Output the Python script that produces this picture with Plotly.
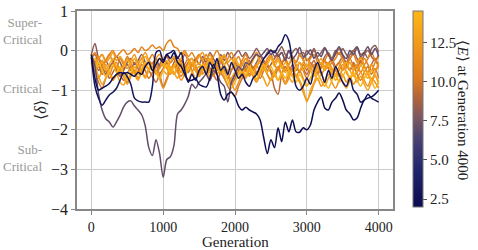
import plotly.graph_objects as go
from plotly.colors import sample_colorscale

generations = list(range(0, 4001, 50))

# <E> at generation 4000 for each run (colour values)
energy = [2.2, 3.0, 7.0, 8.0, 8.6, 9.2, 9.8, 10.4, 10.9, 11.4, 11.9, 12.4, 12.9, 13.5, 14.2]

run_e22 = [-0.1, -0.7, -1.0, -0.95, -0.9, -0.83, -0.7, -0.6, -0.55, -0.58, -0.55,
           -0.6, -0.65, -0.55, -0.6, -0.4, -0.3, -0.5, -0.35, -0.2, -0.3,
           -0.1, -0.2, -0.05, -0.3, -0.4, -0.6, -0.75, -0.75, -0.7, -0.85,
           -0.9, -0.92, -0.7, -0.35, -0.6, -1.1, -1.25, -1.1, -1.05, -1.17,
           -1.4, -1.5, -1.43, -1.5, -1.55, -1.6, -1.75, -2.2, -2.6, -2.25,
           -2.45, -1.95, -2.3, -1.8, -2.05, -1.75, -2.05, -2.06, -1.95, -2.0,
           -1.88, -1.5, -1.3, -1.17, -1.45, -1.5, -1.3, -1.2, -1.07, -1.25,
           -1.5, -1.6, -1.75, -1.7, -1.45, -1.25, -1.2, -1.17, -1.1, -1.0, -0.92]
run_e30 = [-0.16, -0.9, -1.2, -1.38, -1.25, -1.12, -1.05, -0.95, -0.75, -0.55, -0.66,
           -0.85, -1.2, -1.27, -1.3, -1.3, -1.3, -0.9, -0.05, 0.0, -0.25,
           -0.1, -0.05, 0.0, -0.2, -0.05, -0.5, -0.8, -0.6, -0.75, -0.5,
           -0.4, -0.6, -0.3, -0.45, -0.2, -0.5, -0.4, -0.6, -0.3, -0.5,
           -0.7, -0.6, -0.8, -0.9, -0.7, -0.6, -0.4, -0.2, -0.1, 0.0,
           -0.05, 0.1, 0.2, 0.4, 0.25, -0.3, -0.9, -1.0, -0.9, -0.7,
           -0.85, -0.5, -0.3, -0.55, -0.8, -0.5, -0.7, -0.4, -0.6, -0.8,
           -0.9, -0.7, -1.0, -1.1, -1.3, -1.25, -1.1, -1.2, -1.25, -1.3, -1.25]
run_e70 = [-0.1, -0.4, -1.1, -1.5, -1.72, -1.8, -1.93, -1.8, -1.63, -1.42, -1.3,
           -1.27, -1.4, -1.5, -1.62, -1.9, -2.45, -2.65, -2.25, -2.6, -3.2,
           -2.75, -2.68, -2.4, -1.6, -1.5, -1.35, -1.15, -0.85, -0.95, -0.8,
           -0.7, -0.6, -0.75, -0.5, -0.6, -0.8, -0.9, -1.3, -0.8, -0.6,
           -0.4, -0.5, -0.3, -0.35, -0.2, -0.1, -0.15, -0.05, 0.05, -0.1,
           0.0, -0.15, -0.05, -0.25, 0.0, -0.2, -0.1, 0.08, -0.15, -0.1,
           0.02, -0.2, -0.05, -0.15, 0.05, -0.1, -0.25, -0.05, 0.1, -0.1,
           -0.2, 0.0, -0.1, 0.08, -0.15, -0.05, 0.1, -0.1, 0.05, -0.15, -0.05]
run_e80 = [-0.1, 0.18, -0.2, -0.35, -0.25, -0.4, -0.3, -0.15, -0.3, -0.45, -0.3,
           -0.2, -0.35, -0.25, -0.1, -0.3, -0.5, -0.35, -0.2, -0.4, -0.3,
           -0.15, -0.3, -0.2, -0.45, -0.3, -0.1, -0.25, -0.4, -0.2, -0.35,
           -0.15, -0.3, -0.05, -0.2, -0.35, -0.1, -0.25, -0.05, -0.2, -0.1,
           0.0, -0.15, -0.05, -0.2, -0.1, 0.05, -0.1, -0.2, -0.05, 0.02,
           -0.15, -0.05, 0.1, -0.1, -0.2, -0.05, 0.05, -0.1, -0.2, 0.0,
           -0.1, 0.05, -0.15, -0.05, 0.08, -0.1, -0.2, 0.0, -0.1, 0.05,
           -0.1, -0.2, 0.0, 0.1, -0.1, -0.05, -0.2, 0.05, 0.13, -0.05, -0.1]
run_e86 = [-0.15, -0.3, -0.5, -0.4, -0.6, -0.45, -0.3, -0.5, -0.65, -0.5, -0.35,
           -0.5, -0.3, -0.45, -0.6, -0.4, -0.25, -0.4, -0.55, -0.35, -0.2,
           -0.35, -0.5, -0.3, -0.15, -0.35, -0.5, -0.3, -0.2, -0.4, -0.55,
           -0.35, -0.2, -0.45, -0.6, -0.4, -0.25, -0.5, -0.7, -0.5, -0.3,
           -0.5, -0.65, -0.4, -0.25, -0.45, -0.3, -0.15, -0.3, -0.5, -0.35,
           -0.2, -0.1, -0.3, -0.2, 0.0, -0.15, -0.3, -0.1, -0.05, -0.25,
           -0.15, 0.0, -0.2, -0.35, -0.15, -0.05, -0.2, -0.1, 0.05, -0.15,
           -0.3, -0.1, 0.0, -0.2, -0.3, -0.1, 0.0, -0.15, -0.25, -0.1, -0.15]
run_e92 = [-0.2, -0.1, -0.35, -0.6, -0.5, -0.7, -0.55, -0.4, -0.6, -0.75, -0.6,
           -0.4, -0.55, -0.7, -0.5, -0.35, -0.5, -0.65, -0.8, -0.6, -0.45,
           -0.3, -0.45, -0.6, -0.4, -0.25, -0.4, -0.55, -0.35, -0.5, -0.65,
           -0.5, -0.3, -0.45, -0.6, -0.75, -0.55, -0.4, -0.6, -0.85, -0.7,
           -0.5, -0.35, -0.5, -0.3, -0.45, -0.6, -0.4, -0.25, -0.4, -0.55,
           -0.95, -1.1, -0.6, -0.4, -0.55, -0.35, -0.5, -0.3, -0.45, -0.6,
           -0.4, -0.25, -0.45, -0.3, -0.5, -0.35, -0.2, -0.4, -0.3, -0.15,
           -0.35, -0.5, -0.3, -0.45, -0.25, -0.4, -0.55, -0.35, -0.2, -0.4, -0.3]
run_e98 = [-0.25, -0.5, -0.8, -0.95, -0.7, -0.55, -0.7, -0.6, -0.45, -0.65, -0.8,
           -0.6, -0.4, -0.55, -0.35, -0.5, -0.7, -0.55, -0.4, -0.6, -0.9,
           -0.7, -0.5, -0.35, -0.5, -0.65, -0.45, -0.3, -0.5, -0.7, -0.55,
           -0.4, -0.6, -0.75, -0.5, -0.35, -0.55, -0.7, -0.9, -1.05, -1.15,
           -0.9, -0.7, -0.5, -0.6, -0.4, -0.55, -0.7, -0.5, -0.35, -0.5,
           -0.65, -0.45, -0.3, -0.5, -0.35, -0.2, -0.4, -0.55, -0.35, -0.5,
           -0.3, -0.45, -0.6, -0.4, -0.25, -0.45, -0.3, -0.5, -0.65, -0.45,
           -0.3, -0.5, -0.35, -0.6, -0.75, -0.55, -0.4, -0.6, -0.45, -0.7, -0.55]
run_e104 = [-0.1, -0.3, -0.15, -0.4, -0.25, -0.1, -0.3, -0.45, -0.2, -0.35, -0.15,
            -0.3, -0.5, -0.35, -0.2, -0.4, -0.25, -0.1, -0.3, -0.45, -0.25,
            -0.1, -0.3, -0.2, -0.4, -0.55, -0.35, -0.2, -0.4, -0.25, -0.1,
            -0.3, -0.45, -0.2, -0.35, -0.5, -0.3, -0.15, -0.35, -0.5, -0.3,
            -0.15, -0.35, -0.2, -0.4, -0.6, -0.4, -0.25, -0.45, -0.3, -0.15,
            -0.35, -0.5, -0.3, -0.2, -0.4, -0.6, -0.45, -0.3, -0.5, -0.7,
            -0.5, -0.35, -0.55, -0.4, -0.25, -0.45, -0.6, -0.4, -0.3, -0.5,
            -0.35, -0.2, -0.4, -0.55, -0.35, -0.2, -0.35, -0.5, -0.3, -0.15, -0.3]
run_e109 = [-0.2, -0.05, -0.2, -0.1, -0.25, -0.1, 0.0, -0.15, -0.05, 0.02, -0.1,
            -0.05, 0.05, -0.05, 0.09, 0.0, 0.05, 0.14, 0.05, 0.1, 0.0,
            0.19, 0.27, 0.1, 0.05, -0.1, 0.0, -0.15, -0.05, -0.2, -0.1,
            -0.25, -0.1, -0.3, -0.15, 0.0, -0.2, -0.35, -0.2, -0.05, -0.25,
            -0.4, -0.25, -0.1, -0.3, -0.2, -0.05, -0.25, -0.4, -0.2, -0.1,
            -0.3, -0.15, -0.05, -0.25, -0.35, -0.15, -0.3, -0.1, -0.25, -0.4,
            -0.2, -0.1, -0.3, -0.45, -0.25, -0.1, -0.3, -0.2, -0.05, -0.25,
            -0.4, -0.2, -0.1, -0.3, -0.15, -0.35, -0.2, -0.05, -0.25, -0.4, -0.2]
run_e114 = [-0.3, -0.55, -0.4, -0.25, -0.45, -0.6, -0.4, -0.3, -0.5, -0.35, -0.2,
            -0.4, -0.55, -0.35, -0.5, -0.65, -0.45, -0.3, -0.5, -0.7, -0.95,
            -0.75, -0.5, -0.35, -0.55, -0.4, -0.6, -0.75, -0.55, -0.4, -0.6,
            -0.45, -0.3, -0.5, -0.65, -0.45, -0.6, -0.4, -0.55, -0.8, -1.0,
            -0.8, -0.6, -0.45, -0.65, -0.5, -0.35, -0.55, -0.4, -0.6, -0.75,
            -0.55, -0.4, -0.6, -0.8, -0.6, -0.45, -0.65, -0.5, -0.7, -0.9,
            -0.7, -0.55, -0.4, -0.6, -0.45, -0.3, -0.5, -0.65, -0.5, -0.35,
            -0.55, -0.7, -0.5, -0.35, -0.55, -0.4, -0.6, -0.75, -0.55, -0.4, -0.6]
run_e119 = [-0.15, -0.45, -0.7, -0.5, -0.35, -0.55, -0.75, -0.6, -0.45, -0.65, -0.85,
            -0.65, -0.5, -0.7, -0.55, -0.35, -0.5, -0.4, -0.6, -0.45, -0.3,
            -0.45, -0.6, -0.4, -0.55, -0.75, -0.6, -0.45, -0.3, -0.5, -0.4,
            -0.6, -0.45, -0.65, -0.5, -0.35, -0.55, -0.4, -0.6, -0.75, -0.6,
            -0.4, -0.55, -0.7, -0.5, -0.65, -0.8, -0.6, -0.45, -0.6, -0.75,
            -0.6, -0.45, -0.65, -0.85, -0.7, -0.5, -0.65, -0.8, -1.05, -1.25,
            -1.1, -0.85, -0.7, -0.9, -0.75, -0.6, -0.8, -0.95, -0.75, -0.6,
            -0.8, -0.65, -0.85, -0.7, -0.55, -0.75, -0.9, -0.7, -0.8, -0.95, -0.85]
run_e124 = [-0.2, -0.35, -0.2, -0.1, -0.3, -0.2, -0.05, -0.25, -0.15, -0.3, -0.45,
            -0.25, -0.1, -0.3, -0.2, -0.05, -0.25, -0.4, -0.2, -0.1, -0.3,
            -0.45, -0.3, -0.15, -0.35, -0.2, -0.05, -0.25, -0.4, -0.3, -0.15,
            -0.05, -0.25, -0.1, -0.3, -0.45, -0.25, -0.1, -0.3, -0.2, -0.4,
            -0.55, -0.35, -0.2, -0.4, -0.25, -0.1, -0.3, -0.45, -0.3, -0.15,
            -0.3, -0.2, -0.4, -0.55, -0.35, -0.2, -0.35, -0.5, -0.3, -0.2,
            -0.4, -0.55, -0.35, -0.2, -0.4, -0.3, -0.45, -0.6, -0.4, -0.25,
            -0.45, -0.3, -0.5, -0.35, -0.2, -0.4, -0.55, -0.35, -0.5, -0.3, -0.45]
run_e129 = [-0.1, -0.4, -0.65, -0.85, -0.7, -0.55, -0.75, -0.6, -0.8, -0.87, -0.6,
            -0.45, -0.6, -0.75, -0.55, -0.7, -0.5, -0.35, -0.55, -0.7, -0.5,
            -0.6, -0.4, -0.55, -0.7, -0.5, -0.65, -0.45, -0.3, -0.5, -0.65,
            -0.5, -0.35, -0.55, -0.4, -0.6, -0.45, -0.65, -0.85, -0.7, -0.55,
            -0.7, -0.5, -0.65, -0.45, -0.6, -0.75, -0.55, -0.7, -0.9, -0.7,
            -0.55, -0.75, -0.6, -0.45, -0.65, -0.8, -0.6, -0.75, -0.95, -1.3,
            -1.0, -0.8, -0.6, -0.75, -0.9, -0.7, -0.55, -0.75, -0.6, -0.8,
            -0.95, -0.75, -0.6, -0.8, -0.65, -0.85, -1.0, -0.8, -0.65, -0.85, -0.75]
run_e135 = [-0.3, -0.2, -0.4, -0.3, -0.5, -0.35, -0.2, -0.4, -0.55, -0.4, -0.25,
            -0.35, -0.2, -0.4, -0.3, -0.15, -0.35, -0.5, -0.3, -0.2, -0.4,
            -0.25, -0.45, -0.6, -0.4, -0.3, -0.5, -0.35, -0.2, -0.4, -0.3,
            -0.5, -0.35, -0.2, -0.4, -0.3, -0.15, -0.35, -0.5, -0.35, -0.2,
            -0.35, -0.5, -0.3, -0.45, -0.6, -0.4, -0.3, -0.5, -0.35, -0.2,
            -0.4, -0.25, -0.45, -0.3, -0.5, -0.65, -0.45, -0.3, -0.5, -0.35,
            -0.5, -0.65, -0.45, -0.3, -0.5, -0.35, -0.55, -0.4, -0.6, -0.45,
            -0.3, -0.5, -0.65, -0.5, -0.35, -0.55, -0.7, -0.5, -0.6, -0.8, -0.65]
run_e142 = [-0.2, -0.45, -0.3, -0.5, -0.65, -0.5, -0.35, -0.55, -0.4, -0.6, -0.75,
            -0.55, -0.4, -0.6, -0.45, -0.3, -0.5, -0.35, -0.55, -0.7, -0.5,
            -0.35, -0.55, -0.4, -0.25, -0.45, -0.6, -0.4, -0.55, -0.7, -0.5,
            -0.35, -0.5, -0.65, -0.45, -0.6, -0.4, -0.55, -0.75, -0.95, -0.8,
            -0.6, -0.45, -0.6, -0.4, -0.55, -0.7, -0.5, -0.35, -0.55, -0.4,
            -0.6, -0.75, -0.55, -0.7, -0.5, -0.65, -0.8, -0.6, -0.75, -0.9,
            -0.7, -0.55, -0.75, -0.6, -0.8, -0.95, -0.75, -0.6, -0.8, -0.65,
            -0.5, -0.7, -0.55, -0.75, -0.9, -0.7, -0.55, -0.75, -0.95, -0.8, -1.0]

runs = [run_e22, run_e30, run_e70, run_e80, run_e86, run_e92, run_e98, run_e104,
        run_e109, run_e114, run_e119, run_e124, run_e129, run_e135, run_e142]

x_ticks = [0, 1000, 2000, 3000, 4000]
y_ticks = [1, 0, -1, -2, -3, -4]
cbar_ticks = [2.5, 5.0, 7.5, 10.0, 12.5]
regime_labels = ["Super-<br>Critical", "Critical", "Sub-<br>Critical"]
regime_pos = [0.5, -0.95, -2.72]

E_MIN, E_MAX = 2.0, 14.5
cscale = [[0.0, "#0b0b50"], [0.2, "#21276d"], [0.35, "#4a4272"], [0.45, "#7a5662"],
          [0.55, "#ad633e"], [0.65, "#dc7a1f"], [0.8, "#ef931a"], [1.0, "#fcb718"]]

FONT = "Liberation Serif"
fig = go.Figure()

# draw orange first, dark ones on top
order = list(range(3, len(runs))) + [2, 1, 0]
for k in order:
    frac = (energy[k] - E_MIN) / (E_MAX - E_MIN)
    col = sample_colorscale(cscale, [frac])[0]
    fig.add_trace(go.Scatter(x=generations, y=runs[k], mode="lines",
                             line=dict(color=col, width=1.5, shape="spline", smoothing=0.8),
                             showlegend=False, hoverinfo="skip"))

# colorbar carrier
fig.add_trace(go.Scatter(
    x=[None], y=[None], mode="markers", showlegend=False, hoverinfo="skip",
    marker=dict(color=[E_MIN], colorscale=cscale, cmin=E_MIN, cmax=E_MAX, showscale=True,
                colorbar=dict(thickness=10, len=0.99, lenmode="fraction", y=1, yanchor="top",
                              x=1.063, xanchor="left", xpad=0, ypad=0,
                              outlinewidth=1, outlinecolor="#777",
                              tickvals=cbar_ticks, ticktext=[f"{v:.1f}" for v in cbar_ticks],
                              ticks="outside", ticklen=4, tickcolor="#555",
                              tickfont=dict(family=FONT, size=15, color="#222")))))

for txt, yv in zip(regime_labels, regime_pos):
    fig.add_annotation(x=-0.105, xref="paper", y=yv, yref="y", text=txt, showarrow=False,
                       xanchor="right", yanchor="middle", align="right",
                       font=dict(family=FONT, size=13, color="#999999"))

fig.add_annotation(x=-0.118, xref="paper", y=0.5, yref="paper", text="⟨<i>δ</i>⟩",
                   showarrow=False, textangle=-90, xanchor="center", yanchor="middle",
                   font=dict(family=FONT, size=16, color="#222"))
fig.add_annotation(x=1.22, xref="paper", y=0.5, yref="paper",
                   text="⟨<i>E</i>⟩ at Generation 4000",
                   showarrow=False, textangle=90, xanchor="center", yanchor="middle",
                   font=dict(family=FONT, size=15, color="#222"))
fig.add_annotation(x=0.5, xref="paper", y=-0.168, yref="paper", text="Generation",
                   showarrow=False, xanchor="center", yanchor="middle",
                   font=dict(family=FONT, size=15, color="#222"))

axis_common = dict(showgrid=True, gridcolor="#cccccc", gridwidth=1, showline=True,
                   linecolor="#888888", linewidth=1.5, mirror=True, ticks="outside",
                   ticklen=4, tickcolor="#888888", zeroline=False)

fig.update_xaxes(range=[-200, 4200], tickvals=x_ticks,
                 tickfont=dict(family=FONT, size=14, color="#222"), **axis_common)
fig.update_yaxes(range=[-4, 1], tickvals=y_ticks,
                 tickfont=dict(family=FONT, size=16, color="#222"), **axis_common)

fig.update_layout(width=478, height=250,
                  margin=dict(l=77, r=85, t=11, b=41, autoexpand=False),
                  plot_bgcolor="white", paper_bgcolor="white",
                  font=dict(family=FONT))

fig.write_html("out.html", config={"displayModeBar": False},
               post_script="document.body.style.margin='0';")
